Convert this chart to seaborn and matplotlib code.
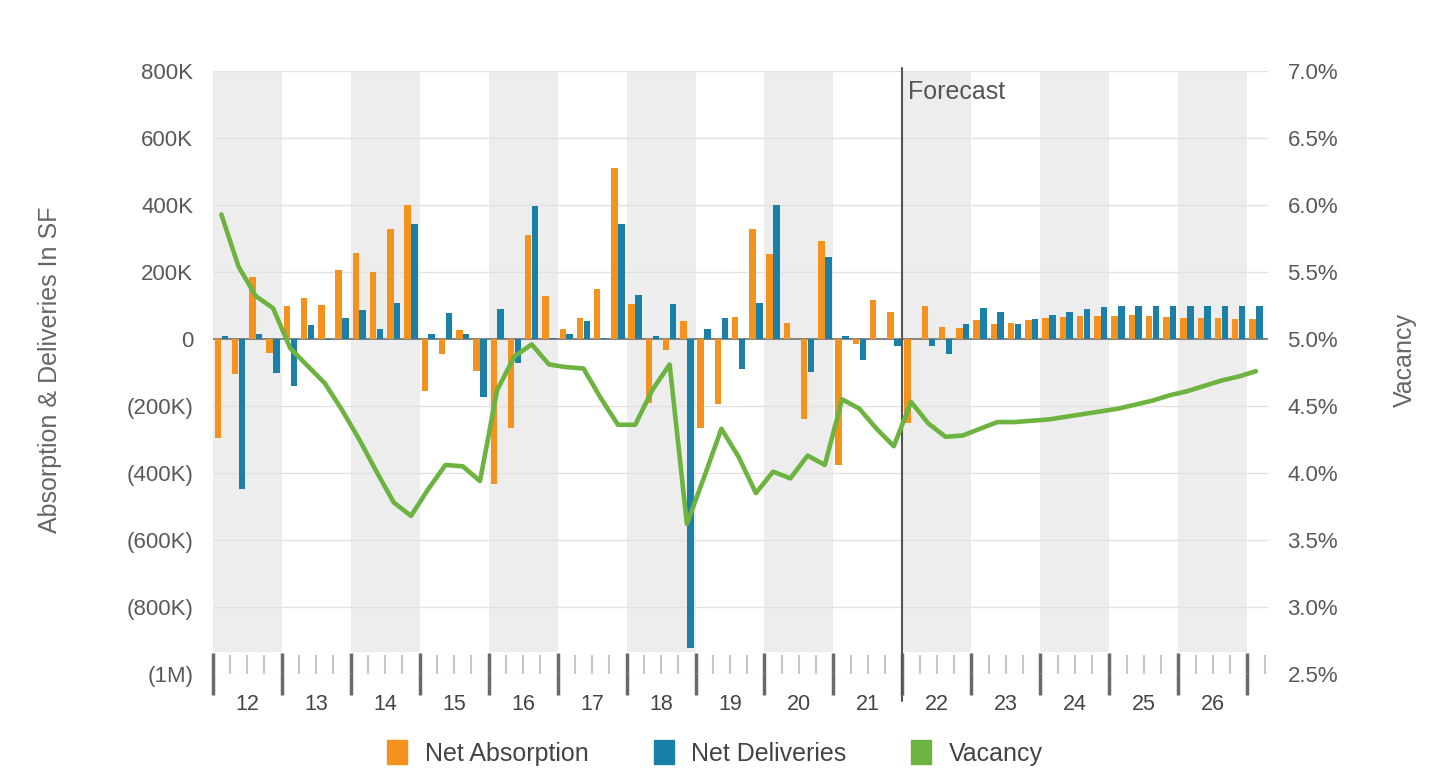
import numpy as np
import pandas as pd
import matplotlib
matplotlib.use("Agg")
import matplotlib.pyplot as plt
import matplotlib.ticker as mticker
from matplotlib.patches import Patch
from matplotlib.transforms import blended_transform_factory
import seaborn as sns

sns.set_theme(style="white")
plt.rcParams['font.family'] = ['Liberation Sans', 'DejaVu Sans']

# quarterly categories, 2012 Q1 .. 2027 Q1
quarters = [f"{y} Q{q}" for y in range(2012, 2028) for q in range(1, 5)][:61]
year_labels = ["12", "13", "14", "15", "16", "17", "18", "19", "20",
               "21", "22", "23", "24", "25", "26"]

# thousands of SF
absorption = [-295, -104, 185, -41, 98, 123, 101, 205, 258, 201, 327, 400,
              -155, -46, 26, -96, -433, -265, 310, 127, 31, 62, 148, 511,
              105, -190, -34, 54, -265, -193, 66, 327, 253, 49, -240, 293,
              -376, -14, 116, 82, -250, 98, 36, 34, 56, 46, 49, 56,
              64, 66, 69, 69, 69, 71, 69, 67, 64, 64, 62, 61, 61]
deliveries = [10, -448, 16, -101, -140, 41, -3, 64, 86, 31, 108, 342,
              16, 77, 16, -173, 90, -71, 397, 3, 16, 54, 3, 342,
              130, 10, 104, -921, 29, 64, -90, 108, 399, 0, -98, 245,
              8, -64, 0, -21, 0, -21, -46, 44, 92, 81, 44, 61,
              71, 81, 90, 96, 99, 99, 99, 99, 99, 99, 99, 99, 99]
# percent
vacancy = [5.93, 5.54, 5.32, 5.23, 4.93, 4.80, 4.67, 4.47, 4.25, 4.01, 3.78, 3.68,
           3.88, 4.06, 4.05, 3.94, 4.62, 4.87, 4.96, 4.81, 4.79, 4.78, 4.56, 4.36,
           4.36, 4.62, 4.81, 3.62, 3.97, 4.33, 4.12, 3.85, 4.01, 3.96, 4.13, 4.06,
           4.55, 4.48, 4.33, 4.20, 4.53, 4.37, 4.27, 4.28, 4.33, 4.38, 4.38, 4.39,
           4.40, 4.42, 4.44, 4.46, 4.48, 4.51, 4.54, 4.58, 4.61, 4.65, 4.69, 4.72, 4.76]
forecast_start = "2022 Q1"

orange = "#F5921E"
blue = "#1B80A8"
green = "#6CB33F"

n = len(quarters)
df = pd.DataFrame({
    "quarter": quarters + quarters,
    "sf": [v * 1000 for v in absorption + deliveries],
    "series": ["Net Absorption"] * n + ["Net Deliveries"] * n,
})

fig, ax = plt.subplots(figsize=(14.42, 7.75), dpi=100)
fig.subplots_adjust(left=212.7 / 1442, right=1268 / 1442, top=1 - 71 / 775, bottom=1 - 674 / 775)

# alternating year bands
for k in range(0, len(year_labels), 2):
    ax.axvspan(4 * k - 0.5, 4 * k + 3.5, ymin=0.036, color="#ededed", lw=0, zorder=0)

sns.barplot(data=df, x="quarter", y="sf", hue="series", order=quarters,
            hue_order=["Net Absorption", "Net Deliveries"], palette=[orange, blue],
            width=0.8, gap=0.06, saturation=1, legend=False, ax=ax, zorder=3,
            linewidth=0, edgecolor="none")
ax.axhline(0, color="#7a7a7a", lw=1.3, zorder=2)

ax.set_ylim(-1_000_000, 800_000)
ax.set_yticks(np.arange(-1_000_000, 800_001, 200_000))


def sf_fmt(v, pos):
    if v == 0:
        return "0"
    s = f"{abs(v) / 1e6:g}M" if abs(v) >= 1e6 else f"{abs(v) / 1e3:g}K"
    return s if v > 0 else f"({s})"


ax.yaxis.set_major_formatter(mticker.FuncFormatter(sf_fmt))
ax.yaxis.grid(True, color="#e2e2e2", lw=1)
ax.set_axisbelow(True)
ax.tick_params(axis="y", length=0, pad=14, labelsize=16, labelcolor="#595959")

# x axis: year boundaries (major) and quarter boundaries (minor)
major = [4 * k - 0.5 for k in range(len(year_labels) + 1)]
minor = [k - 0.5 for k in range(1, n + 1) if k % 4]
ax.set_xticks(major)
ax.xaxis.set_major_formatter(mticker.NullFormatter())
ax.set_xticks(minor, minor=True)
ax.tick_params(axis="x", which="both", bottom=True)
ax.tick_params(axis="x", which="major", direction="inout", length=30, width=2.5, color="#6a6a6a")
ax.tick_params(axis="x", which="minor", direction="in", length=14, width=1.5, color="#c6c6c6")
ax.set_xlabel("")
ax.set_ylabel("Absorption & Deliveries In SF", fontsize=18, color="#666")
ax.yaxis.label.set_va("center")
ax.yaxis.set_label_coords(-0.154, 0.504)

trans = blended_transform_factory(ax.transData, ax.transAxes)
for k, lab in enumerate(year_labels):
    ax.text(4 * k + 1.5, -0.05, lab, transform=trans, ha="center", va="center",
            fontsize=15.5, color="#444")

# vacancy on right axis
ax2 = ax.twinx()
sns.lineplot(x=np.arange(n), y=vacancy, ax=ax2, color=green, lw=3.3, zorder=5)
ax2.set_ylim(2.5, 7.0)
ax2.set_yticks(np.arange(2.5, 7.01, 0.5))
ax2.yaxis.set_major_formatter(mticker.FuncFormatter(lambda v, p: f"{v:.1f}%"))
ax2.tick_params(axis="y", length=0, pad=14, labelsize=16, labelcolor="#595959")
ax2.set_ylabel("Vacancy", fontsize=18, color="#666")
ax2.yaxis.label.set_va("center")
ax2.yaxis.set_label_coords(1.130, 0.52)
ax2.grid(False)

ax.set_xlim(-0.5, 60.7)

# forecast divider
fx = quarters.index(forecast_start) - 0.5
ax.axvline(fx, ymin=-0.045, ymax=1.005, color="#555", lw=1.5, clip_on=False, zorder=6)
ax.text(fx + 0.35, 0.965, "Forecast", transform=trans, ha="left", va="center",
        fontsize=18, color="#555")

for a in (ax, ax2):
    for s in a.spines.values():
        s.set_visible(False)

handles = [Patch(color=orange), Patch(color=blue), Patch(color=green)]
leg = fig.legend(handles, ["Net Absorption", "Net Deliveries", "Vacancy"],
                 loc="center", bbox_to_anchor=(715 / 1442, 1 - 753 / 775), ncol=3,
                 frameon=False, fontsize=18, columnspacing=2.6, handletextpad=0.7,
                 handlelength=0.8, handleheight=1.1)
plt.setp(leg.get_texts(), color="#444")

fig.savefig("out.png", dpi=100, facecolor="white")
